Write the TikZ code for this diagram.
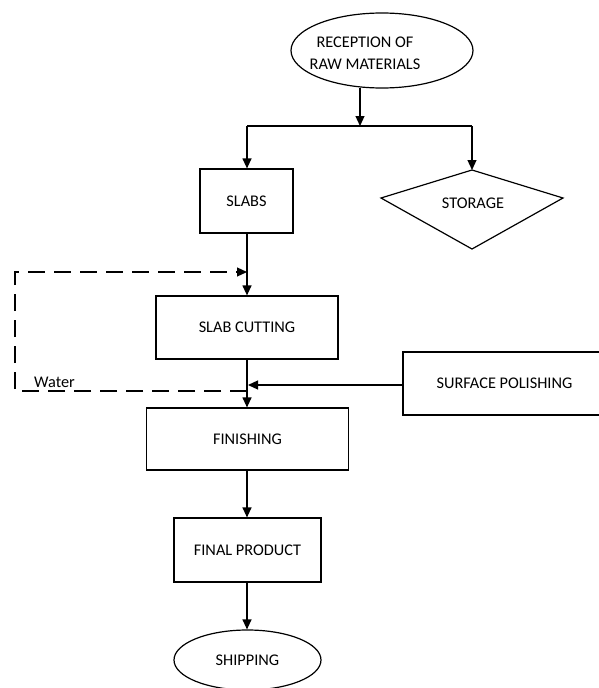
\documentclass[tikz,border=0pt]{standalone}
\usepackage{fontspec}
\setmainfont{Carlito}
\usetikzlibrary{arrows.meta,shapes.geometric}
\begin{document}
\begin{tikzpicture}[x=1pt,y=-1pt,
  box/.style={draw,line width=1.2pt,rectangle,inner sep=0pt},
  oval/.style={draw,line width=1.2pt,ellipse,inner sep=0pt},
  lbl/.style={font=\fontsize{16.3}{21.7}\selectfont,align=center,inner sep=0pt},
  ln/.style={line width=1.2pt},
  arr/.style={line width=1.2pt,-{Triangle[width=9pt,length=10pt]}},
  water/.style={line width=1.2pt,dash pattern=on 17pt off 9pt}
]
\useasboundingbox (0,0) rectangle (599,688);
\fill[white] (0,0) rectangle (599,688);
\clip (0,0) rectangle (599,688);

% nodes
\node[oval,minimum width=182pt,minimum height=75pt] (rec) at (382,50.5) {};
\node[lbl] (rectext) at (365,53) {RECEPTION OF\\RAW MATERIALS};
\node[box,lbl,minimum width=93pt,minimum height=64pt] (slabs) at (246.5,201) {SLABS};
\node[lbl] (storage) at (473,203) {STORAGE};
\coordinate (stT) at (472,170);
\coordinate (stR) at (563,198);
\coordinate (stB) at (472,249);
\coordinate (stL) at (381,198);
\draw[ln,line join=miter] (stT) -- (stR) -- (stB) -- (stL) -- cycle;
\node[box,lbl,minimum width=182pt,minimum height=63pt] (cut) at (247,327.5) {SLAB CUTTING};
\node[box,lbl,minimum width=203pt,minimum height=63pt] (sp) at (504.5,383.5) {SURFACE POLISHING};
\node[box,lbl,minimum width=202pt,minimum height=62pt] (fin) at (247.5,439) {FINISHING};
\node[box,lbl,minimum width=147pt,minimum height=64pt] (prod) at (247.5,550) {FINAL PRODUCT};
\node[oval,lbl,minimum width=147pt,minimum height=60pt] (ship) at (247.5,660) {SHIPPING};
\node[lbl] (waterlbl) at (54.5,382) {Water};

% top distribution
\coordinate (rb) at (360,88);
\coordinate (split) at (360,126);
\coordinate (sL) at (247,126);
\coordinate (sR) at (472,126);
\draw[arr] (rb) -- (split);
\draw[ln] (sL) -- (sR);
\draw[arr] (sL) -- (sL |- slabs.north);
\draw[arr] (sR) -- (stT);

% main line
\draw[arr] (slabs.south -| sL) -- (sL |- cut.north);
\draw[arr] (cut.south -| sL) -- (sL |- fin.north);
\draw[arr] (fin.south -| sL) -- (sL |- prod.north);
\draw[arr] (prod.south -| sL) -- (sL |- ship.north);

% surface polishing feed
\coordinate (spj) at (248,385);
\draw[arr] (sp.west |- spj) -- (spj);

% water loop
\coordinate (wbot) at (247,391);
\coordinate (wbl) at (15,391);
\coordinate (wtl) at (15,272);
\coordinate (wtop) at (247,272);
\draw[water,-{Triangle[width=9pt,length=10pt]}] (wbot) -- (wbl) -- (wtl) -- (wtop);
\end{tikzpicture}
\end{document}
